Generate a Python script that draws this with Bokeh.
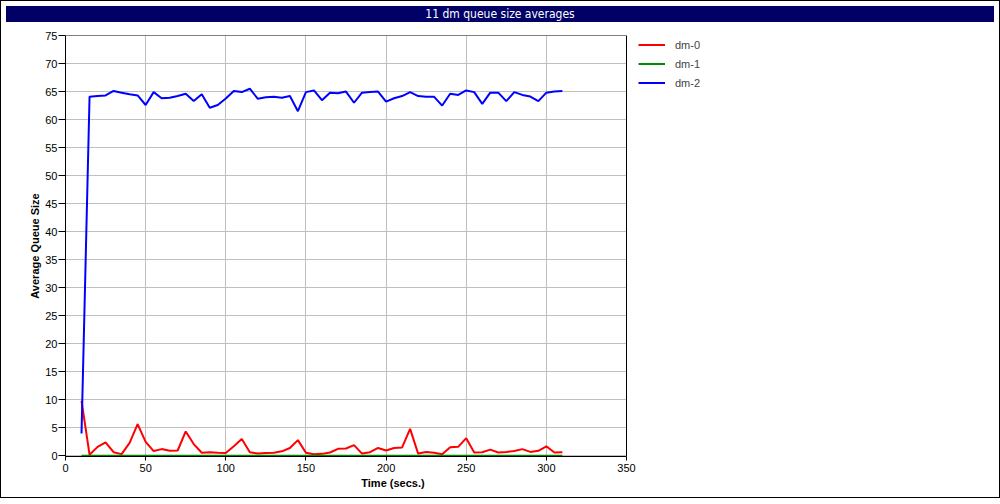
from bokeh.plotting import figure
from bokeh.models import Div, Legend, LegendItem, FixedTicker, Range1d, BoxAnnotation
from bokeh.layouts import column
from bokeh.embed import file_html
from bokeh.resources import INLINE

title = "11 dm queue size averages"
x_label = "Time (secs.)"
y_label = "Average Queue Size"
series_names = ["dm-0", "dm-1", "dm-2"]
series_colors = ["#ff0000", "#008800", "#0000ff"]

time = [10, 15, 20, 25, 30, 35, 40, 45, 50, 55, 60, 65, 70, 75, 80, 85, 90, 95, 100,
        105, 110, 115, 120, 125, 130, 135, 140, 145, 150, 155, 160, 165, 170, 175, 180,
        185, 190, 195, 200, 205, 210, 215, 220, 225, 230, 235, 240, 245, 250, 255, 260,
        265, 270, 275, 280, 285, 290, 295, 300, 305, 310]

dm0 = [9.8, 0.2, 1.6, 2.4, 0.65, 0.3, 2.3, 5.65, 2.5, 0.85, 1.2, 0.9, 0.95, 4.35, 2.1,
       0.55, 0.65, 0.55, 0.5, 1.7, 3.0, 0.65, 0.4, 0.5, 0.55, 0.8, 1.4, 2.8, 0.55, 0.3,
       0.35, 0.6, 1.25, 1.3, 1.9, 0.4, 0.65, 1.4, 0.95, 1.4, 1.5, 4.8, 0.4, 0.7, 0.55,
       0.3, 1.55, 1.6, 3.15, 0.6, 0.65, 1.1, 0.6, 0.7, 0.85, 1.2, 0.7, 0.9, 1.7, 0.6, 0.65]

dm1 = [0.0, 0.0, 0.0, 0.0, 0.0, 0.0, 0.0, 0.0, 0.0, 0.0, 0.0, 0.0, 0.0, 0.0, 0.0, 0.0,
       0.0, 0.0, 0.0, 0.0, 0.0, 0.0, 0.0, 0.0, 0.0, 0.0, 0.0, 0.0, 0.0, 0.0, 0.0, 0.0,
       0.0, 0.0, 0.0, 0.0, 0.0, 0.0, 0.0, 0.0, 0.0, 0.0, 0.0, 0.0, 0.0, 0.0, 0.0, 0.0,
       0.0, 0.0, 0.0, 0.0, 0.0, 0.0, 0.0, 0.0, 0.0, 0.0, 0.0, 0.0, 0.0]

dm2 = [4.0, 64.05, 64.2, 64.3, 65.1, 64.8, 64.5, 64.3, 62.6, 64.9, 63.8, 63.9, 64.2, 64.6,
       63.3, 64.5, 62.1, 62.6, 63.75, 65.1, 64.9, 65.5, 63.7, 64.0, 64.05, 63.9, 64.2, 61.5,
       64.9, 65.2, 63.45, 64.8, 64.7, 65.0, 63.0, 64.8, 64.9, 65.0, 63.2, 63.8, 64.2, 64.9,
       64.2, 64.05, 64.05, 62.5, 64.6, 64.4, 65.2, 64.9, 62.8, 64.8, 64.8, 63.3, 64.9, 64.4,
       64.1, 63.3, 64.8, 65.0, 65.1]

x_ticks = [0, 50, 100, 150, 200, 250, 300, 350]
y_ticks = [0, 5, 10, 15, 20, 25, 30, 35, 40, 45, 50, 55, 60, 65, 70, 75]
x_max = 350
y_max = 75

FONT = "Liberation Sans"

# the drawing frame is widened to the right so the legend (which is clipped to
# the frame) can sit beside the visible plot box, which spans 561 px for 0..350
PLOT_W = 561
FRAME_W = 655
x_end = x_max * FRAME_W / PLOT_W

p = figure(frame_width=FRAME_W, frame_height=421, output_backend="svg", toolbar_location=None,
           x_range=Range1d(0, x_end), y_range=Range1d(-0.12, y_max),
           min_border_left=64, min_border_right=269, min_border_top=8, min_border_bottom=41)

p.outline_line_color = None
p.background_fill_color = "white"
p.border_fill_color = "white"

for ax in (p.xaxis[0], p.yaxis[0]):
    ax.axis_line_color = "black"
    ax.major_tick_line_color = "black"
    ax.minor_tick_line_color = None
    ax.major_tick_in = 0
    ax.major_label_text_font = FONT
    ax.major_label_text_font_size = "11px"
    ax.major_label_text_color = "black"
    ax.axis_label_text_font = FONT
    ax.axis_label_text_font_size = "11px"
    ax.axis_label_text_font_style = "bold"
    ax.axis_label_text_color = "black"

p.xaxis.ticker = FixedTicker(ticks=x_ticks)
p.yaxis.ticker = FixedTicker(ticks=y_ticks)
p.xaxis.bounds = (0, x_max)
p.xaxis.axis_label = x_label
p.yaxis.axis_label = y_label
p.xaxis.major_tick_out = 4
p.yaxis.major_tick_out = 7
p.xaxis.major_label_standoff = 3
p.yaxis.major_label_standoff = 1
p.xaxis.axis_label_standoff = 2
p.yaxis.axis_label_standoff = 1

p.xgrid.grid_line_color = "#c0c0c0"
p.ygrid.grid_line_color = "#c0c0c0"
p.xgrid.ticker = FixedTicker(ticks=x_ticks)
p.ygrid.ticker = FixedTicker(ticks=y_ticks)

items = []
for name, color, ys in zip(series_names, series_colors, [dm0, dm1, dm2]):
    r = p.line(time, ys, line_color=color, line_width=2)
    items.append(LegendItem(label=name, renderers=[r]))

# white area right of the plot box (hides grid lines there), then the black plot box
p.add_layout(BoxAnnotation(left=x_max, fill_color="white", fill_alpha=1.0, line_color=None))
p.add_layout(BoxAnnotation(left=0, right=x_max, fill_color=None, fill_alpha=0,
                           line_color="black", line_width=1, line_alpha=1.0))

legend = Legend(items=items, location=(PLOT_W + 12, 421 - 57), margin=0, padding=0,
                spacing=0, glyph_width=27, glyph_height=19, label_height=19,
                label_standoff=10, label_text_font=FONT, label_text_font_size="11px",
                border_line_color=None, background_fill_alpha=0)
p.add_layout(legend, "center")

head = Div(text=title, width=988, height=16,
           styles={"background-color": "#000066", "color": "white", "text-align": "center",
                   "font-family": "DejaVu Sans", "font-stretch": "condensed",
                   "font-size": "12px", "line-height": "16px", "width": "988px"})

layout = column(head, p, spacing=0,
                styles={"border": "1px solid black", "background-color": "white"})

open("out.html", "w").write(file_html(layout, INLINE))
